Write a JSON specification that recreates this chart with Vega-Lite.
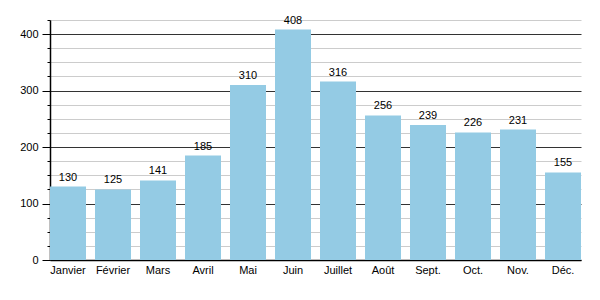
{
  "$schema": "https://vega.github.io/schema/vega-lite/v6.json",
  "autosize": "none",
  "width": 531,
  "height": 240,
  "padding": {"left": 50, "top": 20, "right": 19, "bottom": 40},
  "background": "white",
  "config": {
    "view": {"stroke": null},
    "font": "Liberation Sans",
    "axis": {"labelFont": "Liberation Sans", "labelFontSize": 11, "labelColor": "#000", "domainColor": "#000", "domainWidth": 1.5}
  },
  "data": {
    "values": [
      {"mois": "Janvier", "valeur": 130},
      {"mois": "Février", "valeur": 125},
      {"mois": "Mars", "valeur": 141},
      {"mois": "Avril", "valeur": 185},
      {"mois": "Mai", "valeur": 310},
      {"mois": "Juin", "valeur": 408},
      {"mois": "Juillet", "valeur": 316},
      {"mois": "Août", "valeur": 256},
      {"mois": "Sept.", "valeur": 239},
      {"mois": "Oct.", "valeur": 226},
      {"mois": "Nov.", "valeur": 231},
      {"mois": "Déc.", "valeur": 155}
    ]
  },
  "encoding": {
    "x": {
      "field": "mois", "type": "nominal", "sort": null,
      "scale": {"paddingInner": 0.2, "paddingOuter": 0},
      "axis": {"title": null, "labelAngle": 0, "ticks": false, "labelPadding": 4, "grid": false}
    },
    "y": {
      "field": "valeur", "type": "quantitative",
      "scale": {"domain": [0, 425], "nice": false},
      "axis": {
        "title": null,
        "values": [0, 25, 50, 75, 100, 125, 150, 175, 200, 225, 250, 275, 300, 325, 350, 375, 400, 425],
        "labelExpr": "datum.value % 100 === 0 ? datum.label : ''",
        "grid": true,
        "gridColor": {"condition": {"test": "datum.value % 100 === 0", "value": "#333333"}, "value": "#cccccc"},
        "tickColor": "#000",
        "tickSize": {"condition": {"test": "datum.value % 100 === 0", "value": 8}, "value": 3},
        "labelPadding": 4
      }
    }
  },
  "layer": [
    {"mark": {"type": "bar", "color": "#94cbe4"}},
    {
      "mark": {"type": "text", "baseline": "bottom", "dy": -4, "fontSize": 11, "color": "#000", "font": "Liberation Sans"},
      "encoding": {"text": {"field": "valeur", "type": "quantitative"}}
    }
  ]
}
